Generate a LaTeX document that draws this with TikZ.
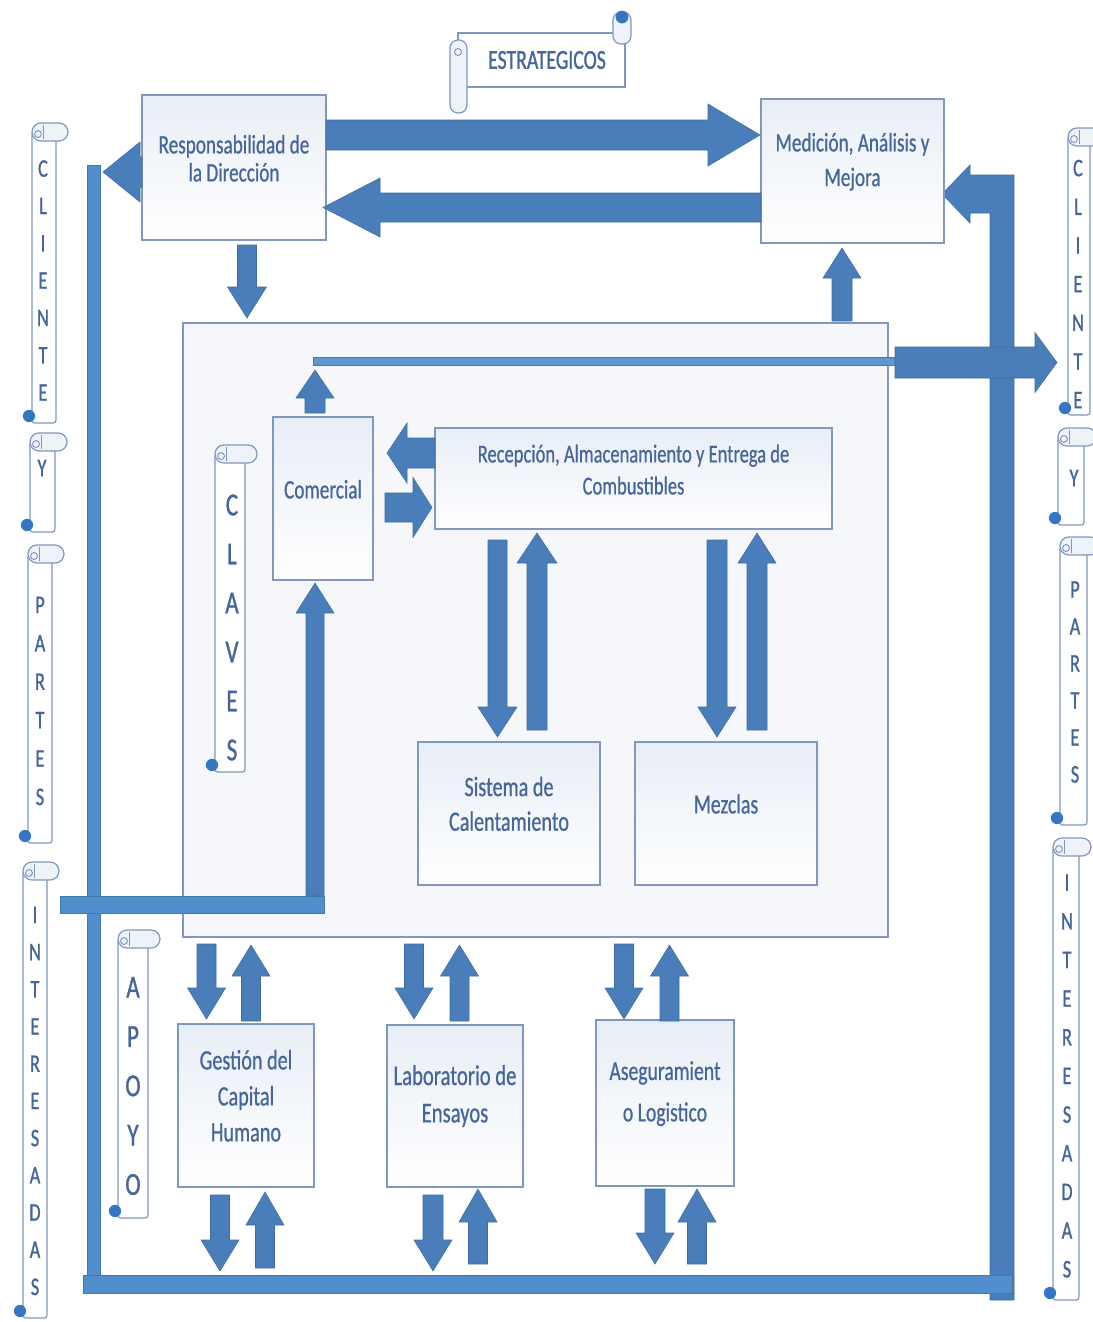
\documentclass[tikz,border=0pt]{standalone}
\usepackage{fontspec}
\setmainfont{Carlito}[FakeStretch=0.72, FakeBold=0.6]
\newfontfamily\bannerfont{Carlito}[FakeStretch=0.72, FakeBold=1.0]
\usetikzlibrary{fit}

\definecolor{arrowblue}{RGB}{74,126,187}
\definecolor{arrowedge}{RGB}{62,108,160}
\definecolor{barblue}{RGB}{80,142,205}
\definecolor{boxline}{RGB}{128,152,190}
\definecolor{boxtint}{RGB}{232,238,246}
\definecolor{framefill}{RGB}{245,247,251}
\definecolor{txtblue}{RGB}{68,102,152}
\definecolor{rollfill}{RGB}{238,242,249}
\definecolor{curldot}{RGB}{52,118,196}

\tikzset{
  box/.style={draw=boxline, line width=1.1pt, top color=boxtint, bottom color=white,
              inner sep=0pt, text=txtblue, align=center},
  blockarrow/.style={fill=arrowblue, draw=arrowedge, line width=0.4pt},
  bar/.style={fill=barblue, draw=barblue!85!black, line width=0.3pt},
  scrollline/.style={draw=boxline, line width=0.9pt},
  letters/.style={text=txtblue, align=center, inner sep=0pt},
}

% vertical block arrow: centre x, tail y, tip y, shaft half width, head half width, signed head length
\newcommand\vblock[6]{%
  \draw[blockarrow] ({#1-#4},#2) -- ({#1+#4},#2) -- ({#1+#4},{#3-#6}) -- ({#1+#5},{#3-#6})
    -- (#1,#3) -- ({#1-#5},{#3-#6}) -- ({#1-#4},{#3-#6}) -- cycle;}
% horizontal block arrow: centre y, tail x, tip x, shaft half width, head half width, signed head length
\newcommand\hblock[6]{%
  \draw[blockarrow] (#2,{#1-#4}) -- (#2,{#1+#4}) -- ({#3-#6},{#1+#4}) -- ({#3-#6},{#1+#5})
    -- (#3,#1) -- ({#3-#6},{#1-#5}) -- ({#3-#6},{#1-#4}) -- cycle;}
% vertical scroll banner: left x, top y, right x, bottom y
\newcommand\vscroll[4]{%
  \filldraw[scrollline, fill=white, rounded corners=2pt] (#1,{#2+9}) rectangle (#3,#4);
  \filldraw[scrollline, fill=rollfill, rounded corners=6.7pt] (#1,#2) rectangle ({#3+12},{#2+18});
  \draw[scrollline, line width=0.7pt] ({#1+6},{#2+11}) circle[radius=2.6pt];
  \draw[scrollline, line width=0.7pt] ({#1+11},{#2+2}) -- ({#1+11},{#2+16});
  \fill[curldot] ({#1-3},{#4-7}) circle[radius=4.6pt];}

\begin{document}
\begin{tikzpicture}[x=0.75pt, y=-0.75pt]
\useasboundingbox (0,0) rectangle (1093,1322);
\fill[white] (0,0) rectangle (1093,1322);

% outer return bars
\draw[bar] (87,165) rectangle (100,1293);
\draw[blockarrow] (990,1300) -- (1014,1300) -- (1014,175) -- (970,175) -- (970,165)
  -- (942,194) -- (970,223) -- (970,213) -- (990,213) -- cycle;
\draw[bar] (83,1275) rectangle (1012,1293);

% key processes frame
\node[draw=boxline, line width=1.1pt, fill=framefill, inner sep=0pt,
      fit={(183,323) (888,937)}] (frame) {};

% output line towards the customer
\draw[bar, fill=barblue!92!white] (313,357) rectangle (895,365);
\hblock{362.5}{895}{1057}{15.5}{30}{22}

% strategic processes
\node[box, fit={(142,95) (326,240)}, font=\fontsize{20}{21}\selectfont] (resp)
  {Responsabilidad de\\la Dirección};
\node[box, fit={(761,99) (944,243)}, font=\fontsize{20}{26}\selectfont] (medic)
  {Medición, Análisis y\\Mejora};

% key processes
\node[box, fit={(273,417) (373,580)}, font=\fontsize{20}{24}\selectfont] (comer) {Comercial};
\node[box, fit={(435,428) (832,529)}, font=\fontsize{19.3}{24}\selectfont] (recep)
  {Recepción, Almacenamiento y Entrega de\\Combustibles};
\node[box, fit={(418,742) (600,885)}, font=\fontsize{21}{26}\selectfont] (siste)
  {Sistema de\\Calentamiento};
\node[box, fit={(635,742) (817,885)}, font=\fontsize{20.7}{26}\selectfont] (mezcl) {Mezclas};

% support processes
\node[box, fit={(178,1024) (314,1187)}, font=\fontsize{21}{27}\selectfont] (gesti)
  {Gestión del\\Capital\\Humano};
\node[box, fit={(387,1025) (523,1187)}, font=\fontsize{21.5}{28}\selectfont] (labor)
  {Laboratorio de\\Ensayos};
\node[box, fit={(596,1020) (734,1186)}, font=\fontsize{20.5}{31}\selectfont] (asegu)
  {Aseguramient\\o Logistico};

% arrows between the strategic boxes
\hblock{135}{326}{760}{15}{31}{52}
\hblock{207.5}{761}{323}{14.5}{29.5}{-57}
\hblock{172}{142}{103}{15}{30}{-37}
\vblock{247}{245}{318}{9.5}{19.5}{31}
\vblock{842}{321}{248}{10}{19}{-30}

% arrows inside the key processes
\vblock{315}{413}{370}{10}{19}{-28}
\hblock{453}{435}{387}{15}{30}{-20}
\hblock{507.5}{385}{432}{14.5}{30}{19}
\vblock{497.5}{540}{737}{9.5}{19.5}{30}
\vblock{537}{730}{533}{10}{20}{-30}
\vblock{717}{540}{737}{10}{19}{30}
\vblock{757}{730}{533}{10}{19}{-30}

% input from the customer into Comercial
\draw[bar] (60,896) rectangle (324,913);
\vblock{315}{896}{583}{9}{19}{-30}

% frame to support processes
\vblock{206.5}{944}{1019}{9.5}{19}{31}
\vblock{251}{1021}{945}{9.5}{19}{-31}
\vblock{414}{944}{1019}{9.5}{19}{31}
\vblock{459.5}{1021}{945}{9.5}{19}{-31}
\vblock{624}{944}{1019}{9.5}{19}{31}
\vblock{669.5}{1021}{945}{9.5}{19}{-31}

% support processes to the bottom bar
\vblock{220}{1195}{1271}{9.5}{19}{31}
\vblock{265}{1268}{1192}{9.5}{19}{-33}
\vblock{433}{1195}{1271}{10}{19}{31}
\vblock{478}{1264}{1189}{9.5}{19}{-33}
\vblock{655}{1189}{1264}{10}{19}{31}
\vblock{697}{1264}{1189}{9.5}{19}{-33}

% ESTRATEGICOS banner
\filldraw[scrollline, fill=white] (458,33) rectangle (625,87);
\filldraw[scrollline, fill=rollfill, rounded corners=6pt] (450,40) rectangle (467,113);
\draw[scrollline, line width=0.7pt] (458,52) circle[radius=2.6pt];
\filldraw[scrollline, fill=rollfill, rounded corners=6pt] (613,12) rectangle (631,44);
\fill[curldot] (622,17) circle[radius=4.8pt];
\node[text=txtblue, inner sep=0pt, font=\bannerfont\fontsize{20.6}{24}\selectfont] (estr) at (547,60) {ESTRATEGICOS};

% side banners
\vscroll{32}{123}{56}{423}
\vscroll{30}{433}{55}{532}
\vscroll{28}{545}{52}{843}
\vscroll{23}{862}{47}{1318}
\vscroll{1068}{128}{1090}{415}
\vscroll{1058}{428}{1084}{525}
\vscroll{1060}{537}{1087}{825}
\vscroll{1053}{838}{1079}{1300}
\vscroll{215}{445}{245}{772}
\vscroll{118}{930}{148}{1218}

\node[letters, font=\bannerfont\fontsize{19}{28}\selectfont] (clientel) at (43,280.5) {C\\L\\I\\E\\N\\T\\E};
\node[letters, font=\bannerfont\fontsize{19}{28}\selectfont] (yl) at (42,468) {Y};
\node[letters, font=\bannerfont\fontsize{19}{28.8}\selectfont] (partesl) at (40,701) {P\\A\\R\\T\\E\\S};
\node[letters, font=\bannerfont\fontsize{19}{27.9}\selectfont] (interl) at (35,1101) {I\\N\\T\\E\\R\\E\\S\\A\\D\\A\\S};
\node[letters, font=\bannerfont\fontsize{19}{29}\selectfont] (clienter) at (1078,284) {C\\L\\I\\E\\N\\T\\E};
\node[letters, font=\bannerfont\fontsize{19}{28}\selectfont] (yr) at (1074,478) {Y};
\node[letters, font=\bannerfont\fontsize{19}{27.75}\selectfont] (partesr) at (1075,682) {P\\A\\R\\T\\E\\S};
\node[letters, font=\bannerfont\fontsize{19}{29}\selectfont] (interr) at (1067,1076) {I\\N\\T\\E\\R\\E\\S\\A\\D\\A\\S};
\node[letters, font=\bannerfont\fontsize{24}{36.75}\selectfont] (claves) at (232,627.5) {C\\L\\A\\V\\E\\S};
\node[letters, font=\bannerfont\fontsize{24}{37}\selectfont] (apoyo) at (133,1086) {A\\P\\O\\Y\\O};
\end{tikzpicture}
\end{document}
